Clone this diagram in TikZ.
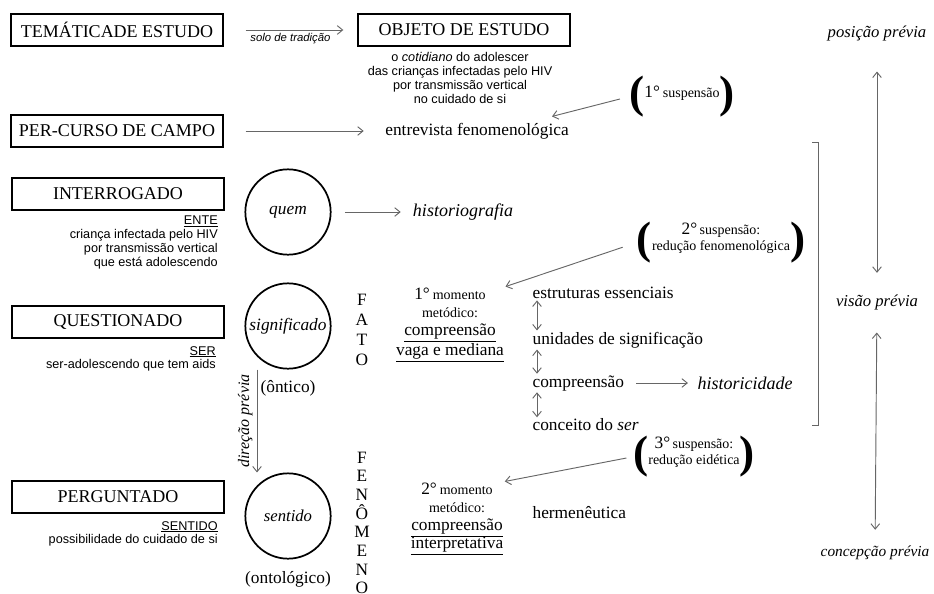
\documentclass[tikz,border=0pt]{standalone}
\usepackage{fontspec}
\setmainfont{Liberation Serif}
\setsansfont{Liberation Sans}
\usetikzlibrary{
  arrows.meta,
  calc,
  positioning,
}
\tikzset{
  >={Straight Barb[length=4pt,width=6.5pt]},
  n/.style={
    draw, line width=1.3pt, minimum width=159pt, minimum height=24pt,
    inner sep=0pt, outer sep=0pt, font=\fontsize{13.5}{16}\selectfont,
  },
  c/.style={circle, draw, line width=1.3pt, minimum size=64pt, inner sep=0pt},
  tx/.style={inner sep=1pt, font=\fontsize{13}{16}\selectfont},
  itx/.style={inner sep=1pt, font=\itshape\fontsize{12.5}{15}\selectfont},
  b/.style={inner sep=0pt, align=right, font=\sffamily\fontsize{9.5}{10.4}\selectfont},
  ar/.style={->, draw=black!60, line width=0.7pt},
}
\newcommand\parL{\raisebox{-8pt}{\fontsize{34}{34}\selectfont\bfseries(}}
\newcommand\parR{\raisebox{-8pt}{\fontsize{34}{34}\selectfont\bfseries)}}
\newcommand\fs{\fontsize{10.5}{12}\selectfont}
\newcommand\grau[1]{{\fontsize{13}{12}\selectfont #1°}}
\newcommand\undl[1]{\setbox0\hbox{#1}\rlap{\rule[-1.3pt]{\wd0}{0.45pt}}\box0}

\begin{document}
\begin{tikzpicture}[x=0.75pt, y=-0.75pt]
  \useasboundingbox (0,0) rectangle (934,593);
  %%
  \node[n] (tema) at (117,30) {TEMÁTICADE ESTUDO};
  \node[n] (objeto) at (464,30) {OBJETO DE ESTUDO};
  \node[n] (campo) at (117,131) {PER-CURSO DE CAMPO};
  \node[n] (interrogado) at (118,194) {INTERROGADO};
  \node[n] (questionado) at (118,322) {QUESTIONADO};
  \node[n] (perguntado) at (118,497) {PERGUNTADO};
  %%
  \node[b, align=center, anchor=north] (cotidiano)
  at ($(objeto.south)+(-4,6)$)
  {o \textit{cotidiano} do adolescer\\das crianças infectadas pelo HIV\\
    por transmissão vertical\\no cuidado de si};
  \node[b, anchor=north east] (ente) at ($(interrogado.south east)+(-6,6)$)
  {\undl{ENTE}\\criança infectada pelo HIV\\por transmissão vertical\\
    que está adolescendo};
  \node[b, anchor=north east] (ser) at ($(questionado.south east)+(-8,8)$)
  {\undl{SER}\\ser-adolescendo que tem aids};
  \node[b, anchor=north east] (sentidotxt)
  at ($(perguntado.south east)+(-6,8)$)
  {\undl{SENTIDO}\\possibilidade do cuidado de si};
  %%
  \node[c, font=\itshape\fontsize{13}{14}\selectfont] (quem) at (288,212) {quem};
  \node[c, font=\itshape\fontsize{13}{14}\selectfont] (significado)
  at (288,326) {significado};
  \node[c, font=\itshape\fontsize{12.5}{14}\selectfont] (sentido)
  at (288,516) {sentido};
  \node[tx, below=7pt of significado] (ontico) {(ôntico)};
  \node[tx, below=7.5pt of sentido] (ontologico) {(ontológico)};
  %%
  \node[tx, align=center, font=\fontsize{13}{15}\selectfont] (fato)
  at (362,330) {F\\A\\T\\O};
  \node[tx, align=center, font=\fontsize{13}{14}\selectfont] (fenomeno)
  at (362,523) {F\\E\\N\\Ô\\M\\E\\N\\O};
  %%
  \node[tx, align=center, font=\fontsize{13}{13.5}\selectfont] (momento1)
  at (450,325) {\grau{1}\,{\fs momento}\\{\fs metódico:}\\
    \underline{compreensão}\\\underline{vaga e mediana}};
  \node[tx, align=center, font=\fontsize{13}{13.5}\selectfont] (momento2)
  at (457,519) {\grau{2}\,{\fs momento}\\{\fs metódico:}\\
    \underline{compreensão}\\\underline{interpretativa}};
  %%
  \node[tx] (entrevista) at (477,131) {entrevista fenomenológica};
  \node[itx, font=\itshape\fontsize{13.5}{15}\selectfont] (historiografia)
  at (463,212) {historiografia};
  \node[tx, anchor=west] (estruturas) at (531,293) {estruturas essenciais};
  \node[tx, anchor=west] (unidades) at (531,340) {unidades de significação};
  \node[tx, anchor=west] (compreensao) at (531,383) {compreensão};
  \node[tx, anchor=west] (conceito) at (531,425) {conceito do \textit{ser}};
  \node[itx, font=\itshape\fontsize{13.5}{15}\selectfont] (historicidade)
  at (745,383) {historicidade};
  \node[tx, anchor=west] (hermeneutica) at (531,513) {hermenêutica};
  %%
  \node[tx] (susp1) at (682,97) {\parL\grau{1}\,{\fs suspensão}\parR};
  \node[tx] (susp2) at (721,243) {\parL{\fs\begin{tabular}{@{}c@{}}
        \grau{2}\,suspensão:\\redução fenomenológica\end{tabular}}\parR};
  \node[tx] (susp3) at (694,457) {\parL{\fs\begin{tabular}{@{}c@{}}
        \grau{3}\,suspensão:\\redução eidética\end{tabular}}\parR};
  %%
  \node[itx] (posicao) at (877,33) {posição prévia};
  \node[itx] (visao) at (877,302) {visão prévia};
  \node[itx, font=\itshape\fontsize{11.5}{14}\selectfont] (concepcao)
  at (875,553) {concepção prévia};
  %%
  \draw[ar, shorten <=17pt, shorten >=11pt] (tema)
  -- node[below, inner sep=2pt, font=\sffamily\itshape\fontsize{8.5}{10}\selectfont]
  (solo) {solo de tradição} (objeto);
  \draw[ar, shorten <=17pt, shorten >=15pt] (campo) -- (entrevista);
  \draw[ar, shorten <=6pt] (susp1.west) -- ($(entrevista.north)+(75,-5)$);
  \draw[ar, shorten <=10pt, shorten >=8pt] (quem) -- (historiografia);
  \draw[ar, shorten <=10pt] (susp2.west) -- (momento1.north east);
  \draw[ar, shorten <=4pt] (susp3.west) -- (momento2.north east);
  %%
  \draw[ar, <->] ($(estruturas.south west)+(6,0)$)
  -- ($(unidades.north west)+(6,0)$);
  \draw[ar, <->] ($(unidades.south west)+(6,0)$)
  -- ($(compreensao.north west)+(6,0)$);
  \draw[ar, <->] ($(compreensao.south west)+(6,0)$)
  -- ($(conceito.north west)+(6,0)$);
  \draw[ar, shorten <=8pt, shorten >=6pt] (compreensao) -- (historicidade);
  %%
  \draw[ar] ($(significado.south)+(-31,0)$)
  -- node[midway, anchor=south, rotate=90, inner sep=3pt,
  font=\itshape\fontsize{12}{14}\selectfont] (direcao) {direção prévia}
  ($(sentido.north)+(-31,0)$);
  %%
  \draw[black!60, line width=0.7pt] (812,142) -- (818,142) -- (818,425) -- (812,425);
  \draw[ar, <->, shorten <=22pt, shorten >=15pt] (posicao) -- (visao);
  \draw[ar, <->, shorten <=16pt, shorten >=11pt] (visao) -- (concepcao);
\end{tikzpicture}
\end{document}
